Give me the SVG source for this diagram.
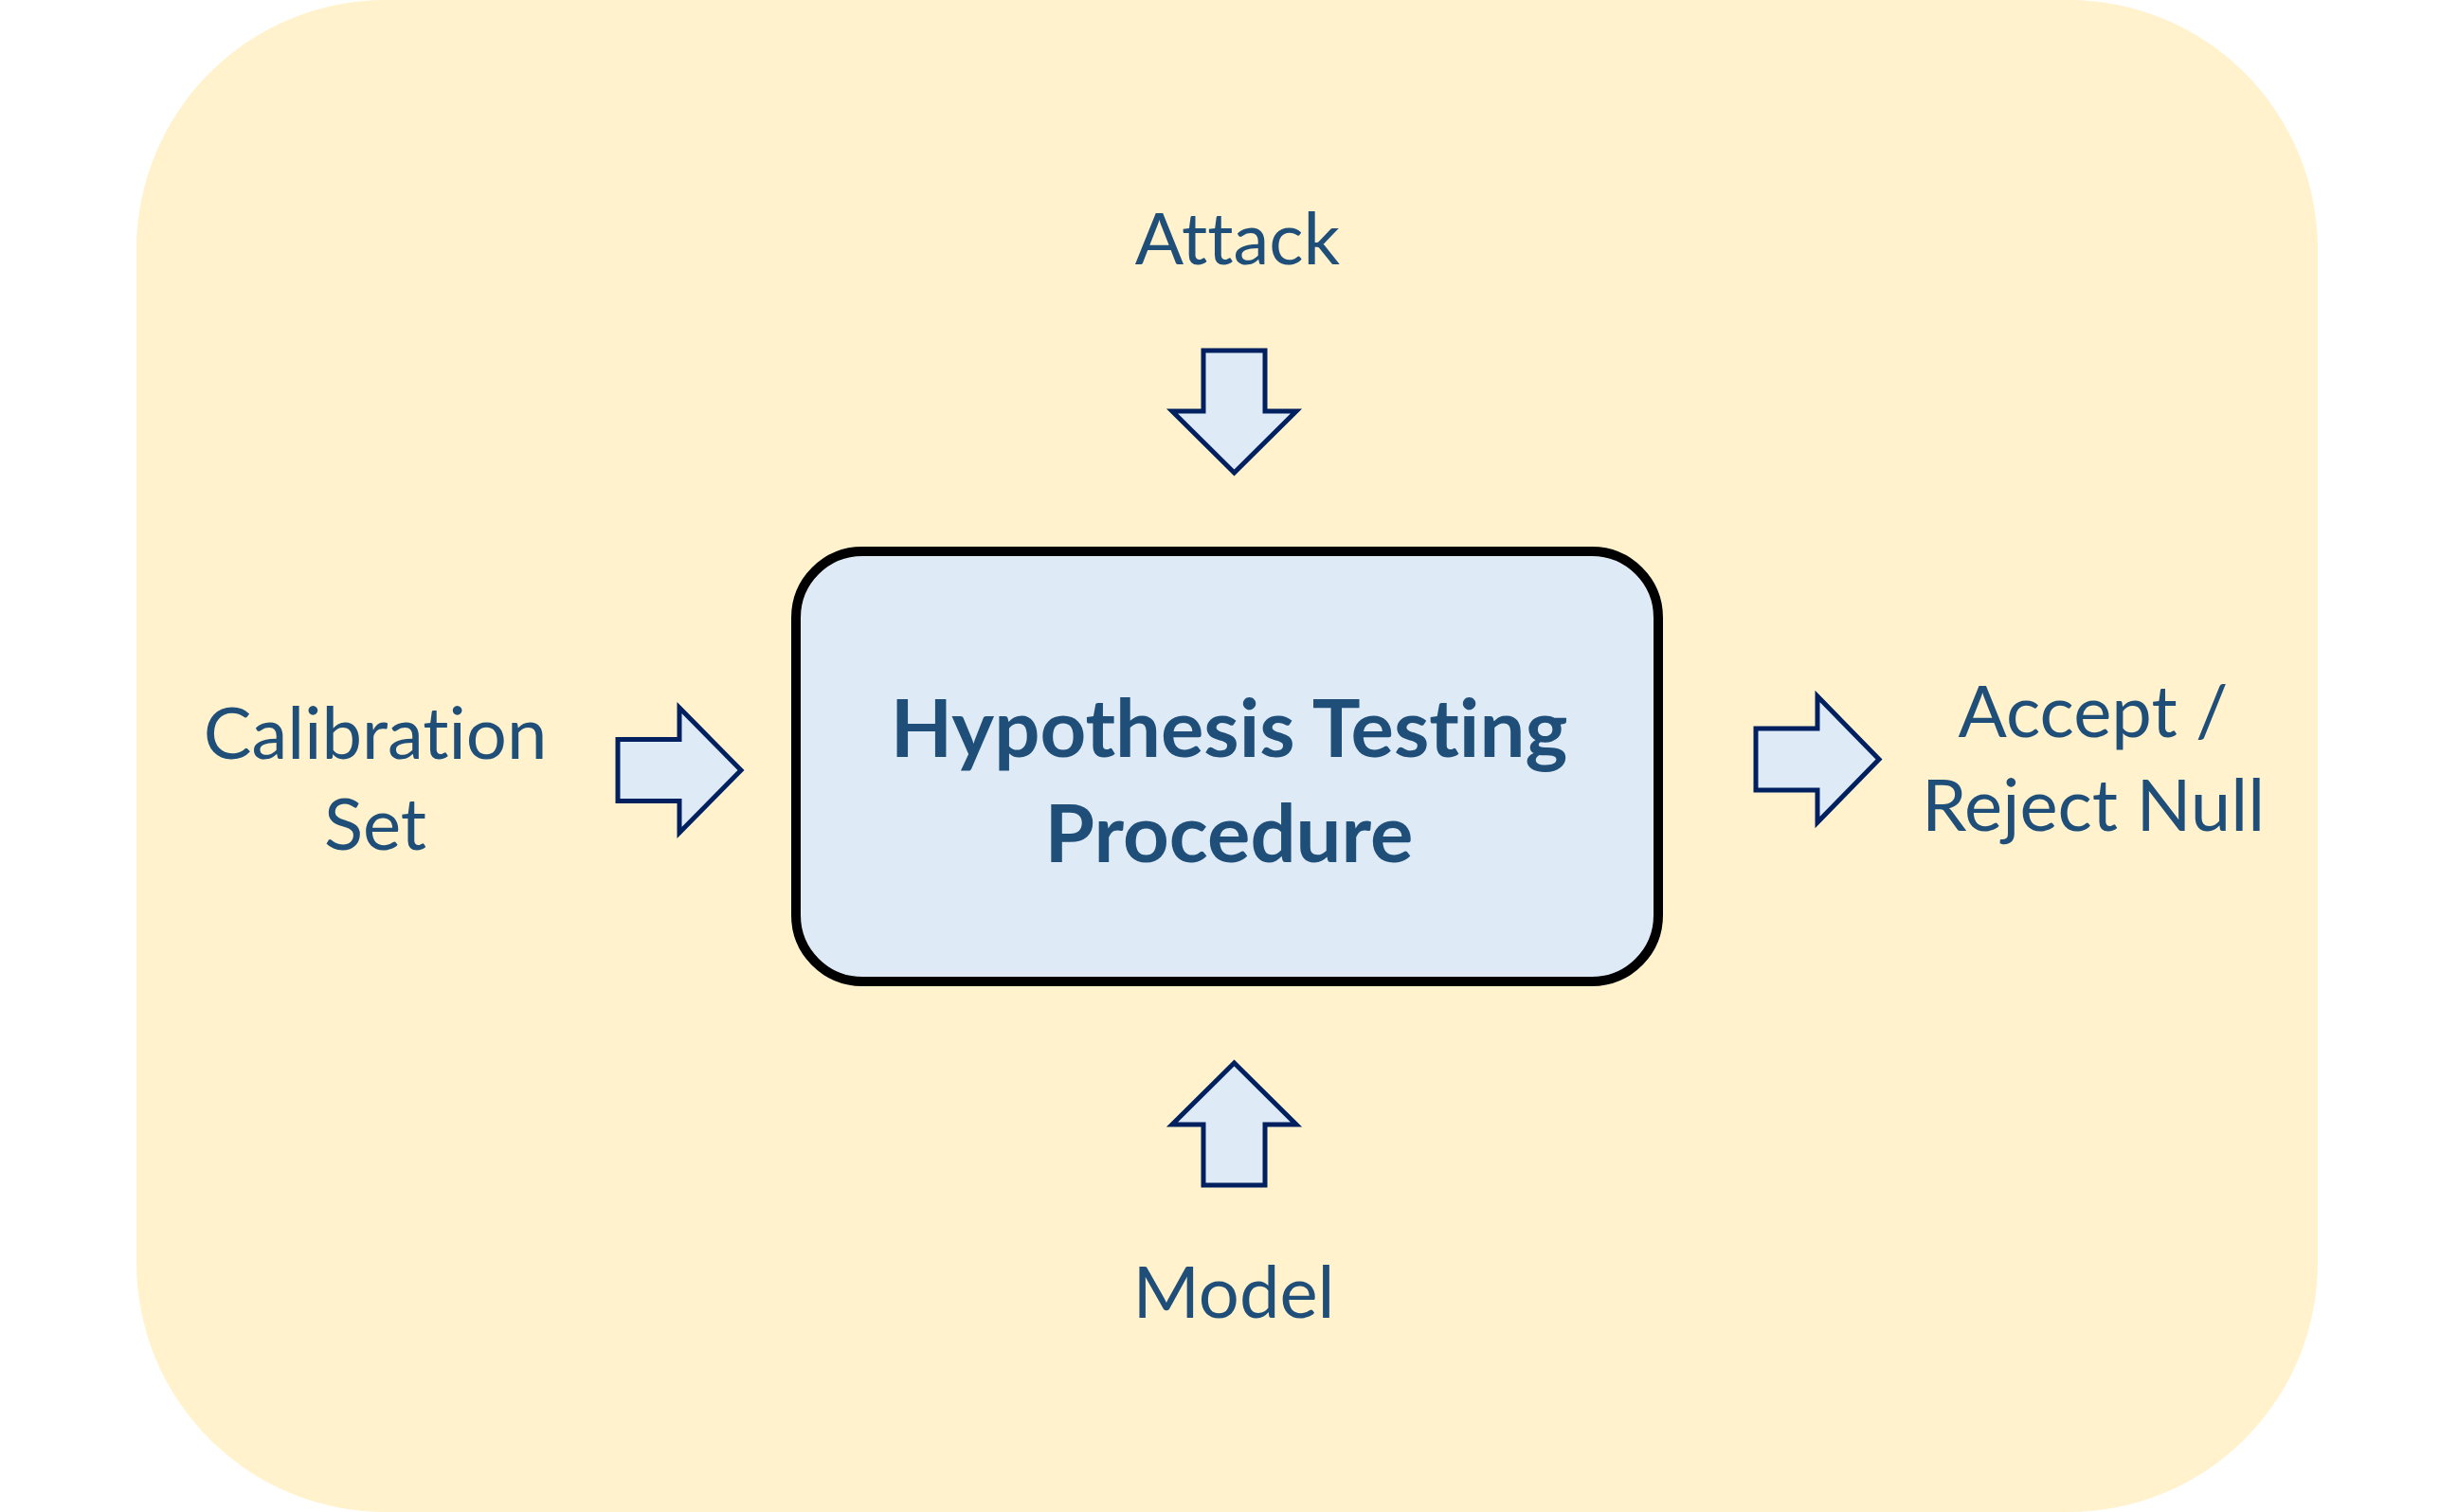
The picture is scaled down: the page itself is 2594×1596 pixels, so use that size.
<svg xmlns="http://www.w3.org/2000/svg" width="2594" height="1596" viewBox="0 0 2594 1596">
  <style>
    .lbl { font-family: Lato, "Open Sans", "Liberation Sans", sans-serif; font-size: 76px; fill: #1F4E79; text-anchor: middle; font-variant-ligatures: none; }
    .title { font-family: Lato, "Open Sans", "Liberation Sans", sans-serif; font-size: 85px; font-weight: bold; fill: #1F4E79; text-anchor: middle; font-variant-ligatures: none; }
    .arrow { fill: #DEEBF7; stroke: #002060; stroke-width: 5; stroke-linejoin: miter; }
  </style>
  <rect id="background" x="144" y="0" width="2302" height="1596" rx="263" ry="263" fill="#FFF2CC"/>
  <g id="procedure">
    <rect x="840" y="582" width="910" height="454" rx="70" ry="70" fill="#DEEBF7" stroke="#000000" stroke-width="10"/>
    <text class="title" x="1297" y="799">Hypothesis Testing</text>
    <text class="title" x="1297" y="910">Procedure</text>
  </g>
  <g id="attack">
    <text class="lbl" x="1306" y="279">Attack</text>
  </g>
  <g id="calibration">
    <text class="lbl" x="396" y="801">Calibration</text>
    <text class="lbl" x="396" y="897">Set</text>
  </g>
  <g id="result">
    <text class="lbl" x="2209" y="778">Accept /</text>
    <text class="lbl" x="2209" y="877">Reject Null</text>
  </g>
  <g id="model">
    <text class="lbl" x="1302" y="1391">Model</text>
  </g>
  <g id="connectors">
    <polygon class="arrow" points="1270,370 1335,370 1335,434 1368,434 1302.5,499 1237,434 1270,434"/>
    <polygon class="arrow" points="1270,1251 1335,1251 1335,1187 1368,1187 1302.5,1122 1237,1187 1270,1187"/>
    <polygon class="arrow" points="652,780.5 717,780.5 717,747 782,813 717,879 717,845.5 652,845.5"/>
    <polygon class="arrow" points="1853,769 1918,769 1918,735 1983,801.5 1918,868 1918,834 1853,834"/>
  </g>
</svg>
